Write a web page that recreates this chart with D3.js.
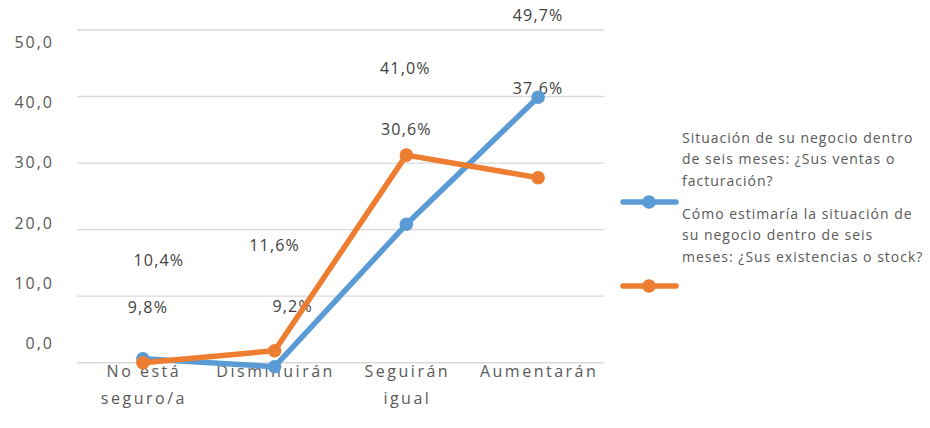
<!DOCTYPE html>
<html lang="es">
<head>
<meta charset="utf-8">
<script src="https://cdn.jsdelivr.net/npm/d3@7"></script>
<style>
  html, body { margin: 0; padding: 0; background: #fff; }
  svg { display: block; font-family: "Open Sans", "DejaVu Sans", sans-serif; }
</style>
</head>
<body>
<svg id="chart" width="930" height="428"></svg>
<script>
// Survey answers by category
const categories = [["No está", "seguro/a"], ["Disminuirán"], ["Seguirán", "igual"], ["Aumentarán"]];
const categoryKeys = ["No está seguro/a", "Disminuirán", "Seguirán igual", "Aumentarán"];

const seriesNames = [
  ["Situación de su negocio dentro", "de seis meses: ¿Sus ventas o", "facturación?"],
  ["Cómo estimaría la situación de", "su negocio dentro de seis", "meses: ¿Sus existencias o stock?"]
];
const ventas = [10.4, 9.2, 30.6, 49.7];
const stock = [9.8, 11.6, 41.0, 37.6];
const seriesColors = ["#5B9BD5", "#ED7D31"];

const tickLabels = [0, 10, 20, 30, 40, 50];

// label nudges to keep crowded value labels apart
const ventasLabelShift = [[16, 8], [18, 47], [0, -1], [0, 0]];
const stockLabelShift = [[5, 51], [0, 0], [-1, 0], [0, 0]];

const svg = d3.select("#chart");

const plot = { left: 77, right: 604, top: 30, bottom: 362.7 };

const x = d3.scaleBand().domain(categoryKeys).range([plot.left, plot.right]);
const y = d3.scaleLinear().domain([9.8, 59.8]).range([plot.bottom, plot.top]);
const tickY = d3.scaleLinear().domain([0, 50]).range([343, 42]);
const fmt = v => d3.format(".1f")(v).replace(".", ",");

// horizontal gridlines
const gridValues = d3.range(0, 6).map(i => y.domain()[0] + i * 10);
svg.append("g").selectAll("line").data(gridValues).join("line")
  .attr("x1", plot.left).attr("x2", plot.right)
  .attr("y1", d => y(d)).attr("y2", d => y(d))
  .attr("stroke", "#d9d9d9").attr("stroke-width", 1.4);

// y tick labels
svg.append("g").selectAll("text").data(tickLabels).join("text")
  .attr("x", 54).attr("y", d => tickY(d))
  .attr("text-anchor", "end").attr("dominant-baseline", "central")
  .attr("font-size", 16).attr("letter-spacing", 2).attr("fill", "#595959")
  .text(d => fmt(d));

// category labels
const catG = svg.append("g");
categories.forEach((lines, i) => {
  const cx = x(categoryKeys[i]) + x.bandwidth() / 2;
  lines.forEach((ln, j) => {
    catG.append("text")
      .attr("x", cx + 1).attr("y", 371 + j * 27)
      .attr("text-anchor", "middle").attr("dominant-baseline", "central")
      .attr("font-size", 16).attr("letter-spacing", 2.5).attr("fill", "#595959")
      .text(ln);
  });
});

// value labels
const valueLabels = [
  ...ventas.map((v, i) => ({ v, i, shift: ventasLabelShift[i] })),
  ...stock.map((v, i) => ({ v, i, shift: stockLabelShift[i] }))
];
svg.append("g").selectAll("text").data(valueLabels).join("text")
  .attr("x", d => x(categoryKeys[d.i]) + x.bandwidth() / 2 + d.shift[0])
  .attr("y", d => tickY(d.v) - 28.5 + d.shift[1])
  .attr("text-anchor", "middle").attr("dominant-baseline", "central")
  .attr("font-size", 16).attr("letter-spacing", 1.2).attr("fill", "#404040")
  .text(d => fmt(d.v) + "%");

// lines and markers
const line = d3.line()
  .x((d, i) => x(categoryKeys[i]) + x.bandwidth() / 2)
  .y(d => y(d));

[ventas, stock].forEach((data, s) => {
  const g = svg.append("g");
  g.append("path").datum(data)
    .attr("d", line).attr("fill", "none")
    .attr("stroke", seriesColors[s]).attr("stroke-width", 5.5)
    .attr("stroke-linejoin", "round").attr("stroke-linecap", "round");
  g.selectAll("circle").data(data).join("circle")
    .attr("cx", (d, i) => x(categoryKeys[i]) + x.bandwidth() / 2)
    .attr("cy", d => y(d)).attr("r", 6.8)
    .attr("fill", seriesColors[s]);
});

// legend
const legend = svg.append("g");
seriesNames.forEach((lines, s) => {
  const top = 137 + s * 76;
  lines.forEach((ln, j) => {
    legend.append("text")
      .attr("x", 682).attr("y", top + j * 21.5)
      .attr("dominant-baseline", "central")
      .attr("font-size", 14).attr("letter-spacing", 1).attr("fill", "#595959")
      .text(ln);
  });
  const ly = 202 + s * 84;
  legend.append("line")
    .attr("x1", 623).attr("x2", 676).attr("y1", ly).attr("y2", ly)
    .attr("stroke", seriesColors[s]).attr("stroke-width", 5.5).attr("stroke-linecap", "round");
  legend.append("circle").attr("cx", 649).attr("cy", ly).attr("r", 6.8).attr("fill", seriesColors[s]);
});
</script>
</body>
</html>
